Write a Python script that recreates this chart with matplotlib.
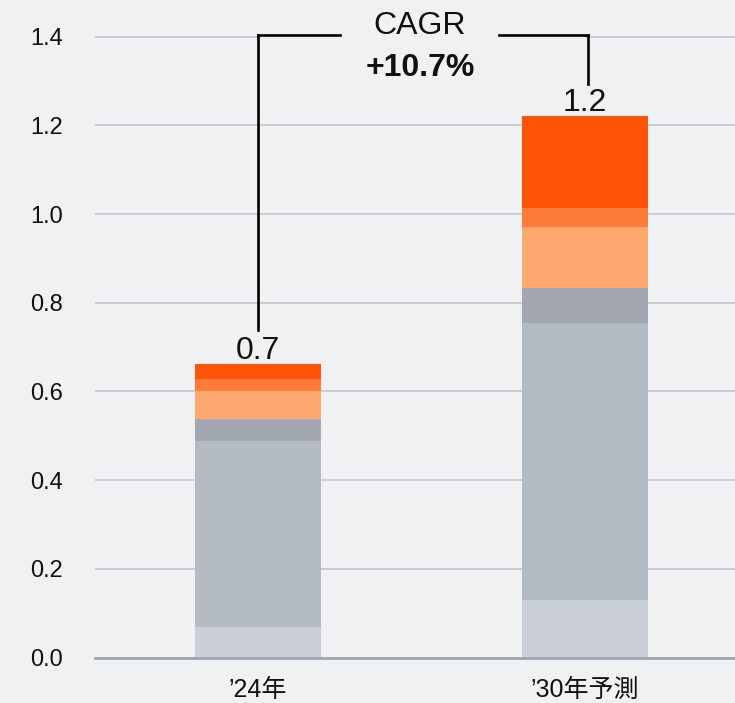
import numpy as np
import matplotlib
matplotlib.use("Agg")
import matplotlib.pyplot as plt
from matplotlib.patches import Rectangle

plt.rcParams['font.family'] = ['Liberation Sans', 'Noto Sans CJK JP', 'DejaVu Sans']

# market size by segment, stacked bottom to top
years = ["\u201924年", "\u201930年予測"]
seg1 = [0.069, 0.130]
seg2 = [0.420, 0.625]
seg3 = [0.049, 0.078]
seg4 = [0.064, 0.138]
seg5 = [0.026, 0.043]
seg6 = [0.034, 0.207]
cagr = "+10.7%"
yticks = [0.0, 0.2, 0.4, 0.6, 0.8, 1.0, 1.2, 1.4]

colors = ["#cbd0d8", "#b5bbc4", "#a2a7b2", "#ffa870", "#ff7b3a", "#ff5308"]
bg = "#f0f1f3"

fig = plt.figure(figsize=(7.35, 7.03), dpi=100, facecolor=bg)
ax = fig.add_axes([95 / 735, 45.5 / 703, 640 / 735, 657.5 / 703])
ax.set_facecolor(bg)

x = np.arange(len(years))
width = 0.385
bottom = np.zeros(len(years))
for vals, c in zip([seg1, seg2, seg3, seg4, seg5, seg6], colors):
    ax.bar(x, vals, width, bottom=bottom, color=c, zorder=3)
    bottom += np.array(vals)

totals = bottom
for xi, t in zip(x, totals):
    ax.text(xi, t + 0.011, "{:.1f}".format(t), ha="center", va="baseline",
            fontsize=23, color="#111111", zorder=5)

ax.set_xlim(-0.4985, 1.459)
ax.set_ylim(0, 1.4 + 36.7 / 443.4)

ax.set_yticks(yticks)
ax.set_yticklabels(["{:.1f}".format(v) for v in yticks], fontsize=17, color="#111111")
ax.set_xticks(x)
ax.set_xticklabels(years, fontsize=18, color="#111111")
ax.tick_params(axis="y", length=0, pad=23)
ax.tick_params(axis="x", length=0, pad=15)

for v in yticks[1:]:
    ax.axhline(v, color="#c9cacf", lw=1.3, zorder=1)

for s in ["top", "right", "left"]:
    ax.spines[s].set_visible(False)
ax.spines["bottom"].set_color("#a0a4ad")
ax.spines["bottom"].set_linewidth(2)
ax.spines["bottom"].set_zorder(4)

# CAGR bracket between the two bars
ytop = 1.404
ax.add_patch(Rectangle((0, 1.38), 1, ytop - 1.38, facecolor=bg,
                       edgecolor="none", zorder=2))
lw = 1.9
ax.plot([0, 0], [totals[0] + 0.077, ytop], color="black", lw=lw, zorder=5,
        solid_capstyle="projecting", clip_on=False)
ax.plot([0, 0.252], [ytop, ytop], color="black", lw=lw, zorder=5,
        solid_capstyle="projecting", clip_on=False)
ax.plot([0.738, 1.01], [ytop, ytop], color="black", lw=lw, zorder=5,
        solid_capstyle="projecting", clip_on=False)
ax.plot([1.01, 1.01], [ytop, totals[1] + 0.073], color="black", lw=lw, zorder=5,
        solid_capstyle="projecting", clip_on=False)

ax.text(0.495, 1.425, "CAGR", ha="center", va="center", fontsize=23,
        color="#111111", zorder=5)
ax.text(0.495, 1.330, cagr, ha="center", va="center", fontsize=23,
        fontweight="bold", color="#111111", zorder=5)

fig.savefig("out.png", dpi=100, facecolor=bg)
